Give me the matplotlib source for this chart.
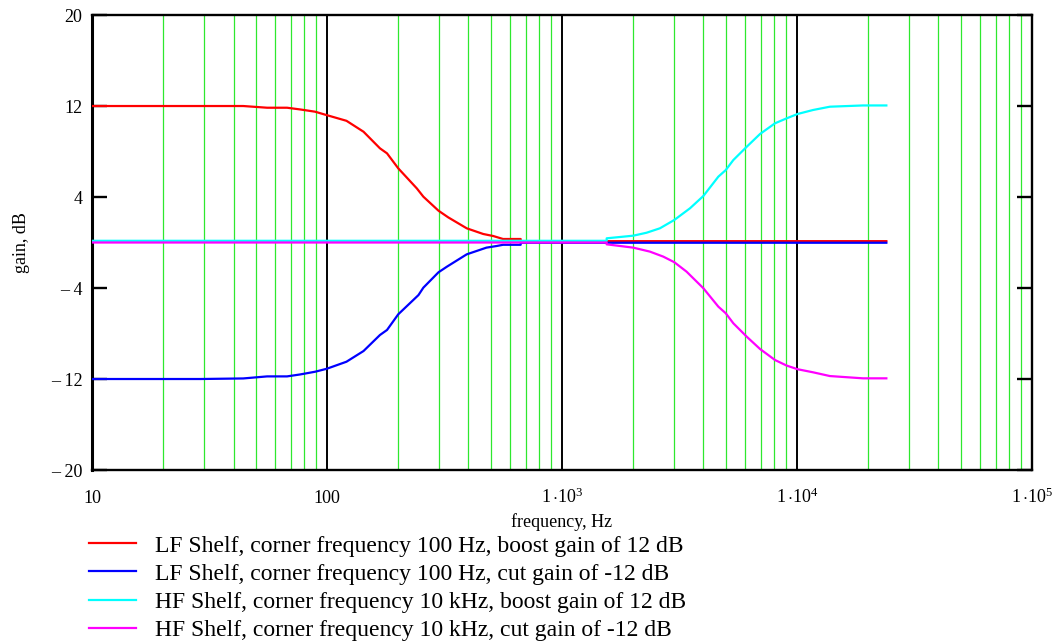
import numpy as np
import matplotlib
matplotlib.use("Agg")
import matplotlib.pyplot as plt
from matplotlib.ticker import FixedLocator, NullFormatter

plt.rcParams['font.family'] = ['Liberation Serif', 'DejaVu Serif']
plt.rcParams['mathtext.fontset'] = 'custom'
plt.rcParams['mathtext.rm'] = 'Liberation Serif'
plt.rcParams['mathtext.it'] = 'Liberation Serif:italic'

# Datos (frecuencia en Hz, ganancia en dB)
f_lf_boost = [10, 29, 44, 55.6, 67.6, 76.8, 89, 99.7, 121, 143, 168, 180, 201, 241, 257,
              298, 328, 393, 462, 510, 561, 667, 667, 24000]
g_lf_boost = [12, 12, 12, 11.85, 11.85, 11.7, 11.5, 11.2, 10.7, 9.74, 8.28, 7.84, 6.52, 4.76, 4.03,
              2.80, 2.21, 1.25, 0.75, 0.57, 0.31, 0.31, 0.12, 0.12]

f_lf_cut = [10, 29, 44, 55.6, 67.6, 76.8, 89, 99.7, 121, 143, 168, 180, 201, 245, 257,
            298, 324, 393, 477, 526, 561, 667, 667, 24000]
g_lf_cut = [-12, -12, -11.95, -11.77, -11.77, -11.6, -11.36, -11.1, -10.48, -9.54, -8.13, -7.69, -6.31,
            -4.62, -3.97, -2.62, -2.12, -1.04, -0.45, -0.31, -0.2, -0.2, -0.02, -0.02]

f_hf_boost = [10, 1549, 1549, 2009, 2290, 2610, 3004, 3505, 3995, 4627, 4975, 5358, 6111, 6960,
              8060, 9040, 10060, 11700, 13800, 19100, 24000]
g_hf_boost = [0.15, 0.15, 0.37, 0.6, 0.86, 1.25, 1.98, 3.01, 4.09, 5.79, 6.37, 7.25, 8.42, 9.54,
              10.48, 10.92, 11.3, 11.65, 11.94, 12.05, 12.05]

f_hf_cut = [10, 1549, 1549, 2009, 2366, 2697, 3004, 3388, 3995, 4627, 4975, 5358, 6111, 6960,
            8060, 9040, 10060, 11700, 13800, 19100, 24000]
g_hf_cut = [0.0, 0.0, -0.16, -0.45, -0.8, -1.24, -1.73, -2.56, -4.02, -5.64, -6.22, -7.1, -8.28, -9.36,
            -10.33, -10.82, -11.14, -11.41, -11.74, -11.94, -11.94]

etiquetas = [
    "LF Shelf, corner frequency 100 Hz, boost gain of 12 dB",
    "LF Shelf, corner frequency 100 Hz, cut gain of -12 dB",
    "HF Shelf, corner frequency 10 kHz, boost gain of 12 dB",
    "HF Shelf, corner frequency 10 kHz, cut gain of -12 dB",
]
colores = ['#ff0000', '#0000ff', '#00ffff', '#ff00ff']

y_ticks = [-20, -12, -4, 4, 12, 20]
y_labels = ['\u2013 20', '\u2013 12', '\u2013 4', '4', '12', '20']
x_ticks = [10, 100, 1e3, 1e4, 1e5]
x_labels = ['10', '100', r'$1\,{\cdot}10^{3}$', r'$1\,{\cdot}10^{4}$', r'$1\,{\cdot}10^{5}$']

fig = plt.figure(figsize=(10.59, 6.42), dpi=100)
ax = fig.add_axes([0.0869, 0.2679, 0.8876, 0.7087])
ax.set_xscale('log')
ax.set_xlim(10, 1e5)
ax.set_ylim(-20, 20)

# Rejilla vertical: verde en 2..9, negra en décadas
for dec in [10, 100, 1000, 10000]:
    for m in range(2, 10):
        ax.axvline(dec * m, color='#2ee82e', lw=0.9, zorder=1)
for dec in [100, 1000, 10000]:
    ax.axvline(dec, color='black', lw=1.4, zorder=1)

series = [(f_lf_boost, g_lf_boost), (f_lf_cut, g_lf_cut),
          (f_hf_boost, g_hf_boost), (f_hf_cut, g_hf_cut)]
handles = []
for (f, g), c, lab in zip(series, colores, etiquetas):
    h, = ax.plot(f, g, color=c, lw=1.6, zorder=3, label=lab)
    handles.append(h)

for s in ax.spines.values():
    s.set_linewidth(1.7)
ax.spines['left'].set_linewidth(2.2)

ax.set_yticks(y_ticks)
ax.set_yticklabels(y_labels)
ax.tick_params(axis='y', direction='in', length=10.5, width=1.7, right=True, pad=7, labelsize=13)

ax.xaxis.set_major_locator(FixedLocator(x_ticks))
ax.xaxis.set_minor_locator(FixedLocator([]))
ax.xaxis.set_minor_formatter(NullFormatter())
ax.set_xticks(x_ticks)
ax.set_xticklabels(x_labels)
ax.tick_params(axis='x', length=0, pad=24, labelsize=13)
for lbl in ax.get_xticklabels():
    lbl.set_verticalalignment('baseline')

ax.set_xlabel('frequency, Hz', fontsize=13, labelpad=4)
ax.set_ylabel('gain, dB', fontsize=13, labelpad=15)

fig.legend(handles=handles, loc='upper left', bbox_to_anchor=(0.084, 1 - 535 / 642),
           frameon=False, fontsize=17, handlelength=2.0, handletextpad=0.8,
           labelspacing=0.28, borderpad=0, borderaxespad=0)

fig.savefig('out.png', dpi=100)
